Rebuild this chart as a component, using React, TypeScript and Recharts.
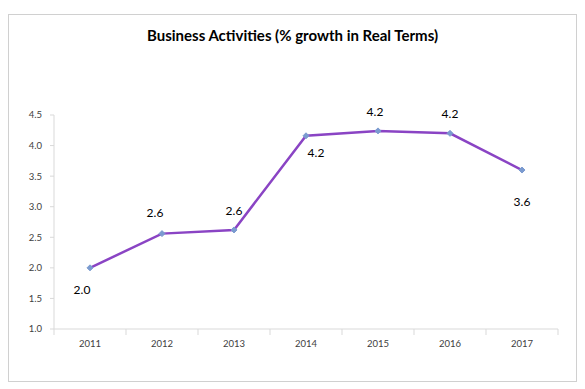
import React from 'react';
import { LineChart, Line, XAxis, YAxis, LabelList } from 'recharts';

const years = ['2011', '2012', '2013', '2014', '2015', '2016', '2017'];
const growth = [2.0, 2.56, 2.62, 4.16, 4.24, 4.2, 3.6];
const yTicks = [1.0, 1.5, 2.0, 2.5, 3.0, 3.5, 4.0, 4.5];

const data = years.map((y, i) => ({ year: y, value: growth[i] }));

const CHART_W = 567;
const CHART_H = 366;
const Y_W = 45;
const RIGHT = 18;
const BAND = (CHART_W - Y_W - RIGHT) / years.length;
const FONT = 'Lato, "Open Sans", sans-serif';
const AXIS_COLOR = '#d9d9d9';
const TEXT_COLOR = '#404040';

// label offsets (dx, dy of text centre relative to the point)
const labelOffsets: [number, number][] = [
  [-8, 22],
  [-7, -21],
  [0, -19],
  [10, 17],
  [-3, -19],
  [0, -19],
  [0, 32],
];

const XTick = (props: any) => {
  const { x, y, payload, index } = props;
  const axisY = y - 8;
  return (
    <g>
      <line x1={x - BAND / 2} x2={x - BAND / 2} y1={axisY} y2={axisY + 6} stroke={AXIS_COLOR} />
      {index === years.length - 1 && (
        <line x1={x + BAND / 2} x2={x + BAND / 2} y1={axisY} y2={axisY + 6} stroke={AXIS_COLOR} />
      )}
      <text x={x} y={y + 10} textAnchor="middle" fontSize={9.5} fill={TEXT_COLOR} fontFamily={FONT}>
        {payload.value}
      </text>
    </g>
  );
};

const Diamond = (props: any) => {
  const { cx, cy, index } = props;
  const s = 3;
  return (
    <polygon
      key={`d-${index}`}
      points={`${cx},${cy - s} ${cx + s},${cy} ${cx},${cy + s} ${cx - s},${cy}`}
      fill="#7b9bd0"
      stroke="#7b9bd0"
    />
  );
};

const ValueLabel = (props: any) => {
  const { x, y, value, index } = props;
  const [dx, dy] = labelOffsets[index] || [0, -18];
  return (
    <text
      x={x + dx}
      y={y + dy + 4}
      textAnchor="middle"
      fontSize={12}
      fill="#000"
      fontFamily={FONT}
    >
      {Number(value).toFixed(1)}
    </text>
  );
};

export default function App() {
  return (
    <div
      style={{
        marginTop: 6,
        width: 569,
        height: 368,
        border: '1px solid #d0d0d0',
        boxSizing: 'border-box',
        position: 'relative',
        background: '#fff',
      }}
    >
      <div
        style={{
          position: 'absolute',
          top: 11,
          left: 0,
          width: '100%',
          textAlign: 'center',
          fontFamily: FONT,
          fontWeight: 'bold',
          fontSize: 15,
          lineHeight: '18px',
          color: '#000',
        }}
      >
        Business Activities (% growth in Real Terms)
      </div>
      <LineChart
        width={CHART_W}
        height={CHART_H}
        data={data}
        margin={{ top: 100, right: RIGHT, bottom: 22, left: 0 }}
      >
        <XAxis
          dataKey="year"
          scale="band"
          height={30}
          tickLine={false}
          tickSize={6}
          tickMargin={2}
          axisLine={{ stroke: AXIS_COLOR }}
          tick={<XTick />}
          interval={0}
        />
        <YAxis
          width={Y_W}
          domain={[1, 4.5]}
          ticks={yTicks}
          tickFormatter={(v: number) => v.toFixed(1)}
          axisLine={{ stroke: AXIS_COLOR }}
          tickLine={{ stroke: AXIS_COLOR }}
          tickSize={4}
          tickMargin={8}
          tick={{ fontSize: 9.5, fill: TEXT_COLOR, fontFamily: FONT }}
          interval={0}
        />
        <Line
          type="linear"
          dataKey="value"
          stroke="#8a44c4"
          strokeWidth={2.5}
          dot={<Diamond />}
          activeDot={false}
          isAnimationActive={false}
        >
          <LabelList dataKey="value" content={<ValueLabel />} />
        </Line>
      </LineChart>
    </div>
  );
}
